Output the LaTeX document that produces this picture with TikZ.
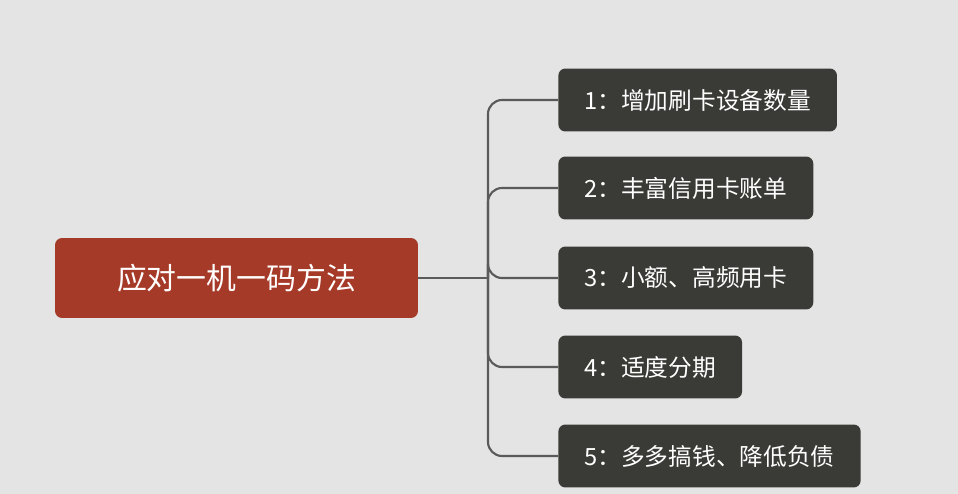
\documentclass[tikz,border=0pt]{standalone}
\usepackage{fontspec}
\newfontfamily\cjk{Noto Sans CJK SC}
\usetikzlibrary{positioning}
\definecolor{bgcol}{HTML}{E4E4E4}
\definecolor{rootred}{HTML}{A63A28}
\definecolor{leafgray}{HTML}{3A3A36}
\definecolor{linegray}{HTML}{5A5A5A}
\tikzset{
  root/.style={fill=rootred,text=white,rounded corners=4pt,minimum width=7.26cm,minimum height=1.6cm,font=\cjk\fontsize{17}{20}\selectfont},
  leaf/.style={fill=leafgray,text=white,rounded corners=4pt,anchor=west,minimum height=1.26cm,inner xsep=0.52cm,font=\cjk\fontsize{13.5}{16}\selectfont},
  link/.style={draw=linegray,line width=1.2pt,rounded corners=8pt}
}
\begin{document}
\begin{tikzpicture}[x=0.02cm,y=-0.02cm]
  \fill[bgcol] (0,0) rectangle (958,494);
  \useasboundingbox (0,0) rectangle (958,494);
  \node[root] (r) at (236.5,278) {应对一机一码方法};
  \coordinate (j) at (488,278);
  \node[leaf] (c1) at (558,100) {1：增加刷卡设备数量};
  \node[leaf] (c2) at (558,188) {2：丰富信用卡账单};
  \node[leaf] (c3) at (558,278) {3：小额、高频用卡};
  \node[leaf] (c4) at (558,367) {4：适度分期};
  \node[leaf] (c5) at (558,456) {5：多多搞钱、降低负债};
  \draw[link] (r.east) -- (j);
  \foreach \c in {c1,c2,c3,c4,c5}
    \draw[link] (j) |- (\c.west);
\end{tikzpicture}
\end{document}
